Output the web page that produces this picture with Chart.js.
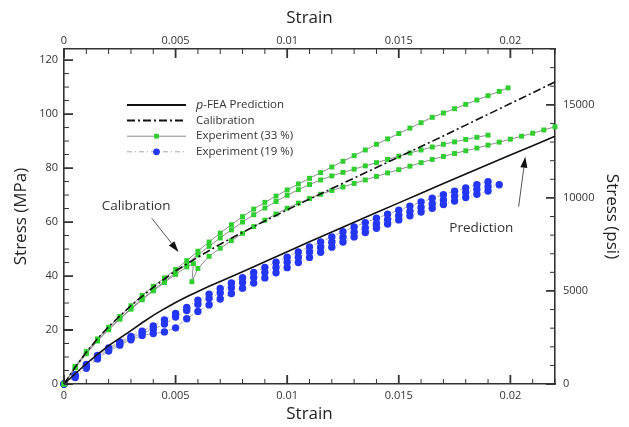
<!DOCTYPE html>
<html>
<head>
<meta charset="utf-8">
<title>Stress - strain</title>
<script src="https://cdn.jsdelivr.net/npm/chart.js@4.4.1/dist/chart.umd.min.js"></script>
<style>
  html, body { margin: 0; padding: 0; background: #fff; }
  #wrap { width: 629px; height: 427px; }
</style>
</head>
<body>
<div id="wrap"><canvas id="stressChart"></canvas></div>
<script>
// strain sampling used by the test records (every 0.0005)
const strainGrid = [0, 0.0005, 0.001, 0.0015, 0.002, 0.0025, 0.003, 0.0035, 0.004, 0.0045,
  0.005, 0.0055, 0.006, 0.0065, 0.007, 0.0075, 0.008, 0.0085, 0.009, 0.0095,
  0.01, 0.0105, 0.011, 0.0115, 0.012, 0.0125, 0.013, 0.0135, 0.014, 0.0145,
  0.015, 0.0155, 0.016, 0.0165, 0.017, 0.0175, 0.018, 0.0185, 0.019, 0.0195,
  0.02, 0.0205, 0.021, 0.0215, 0.022];

// p-FEA prediction (MPa)
const predStrain = [0, 0.0005, 0.001, 0.0015, 0.002, 0.0025, 0.003, 0.0035, 0.004, 0.0045,
  0.005, 0.0055, 0.006, 0.0065, 0.007, 0.008, 0.009, 0.01, 0.011, 0.012,
  0.013, 0.014, 0.015, 0.016, 0.017, 0.018, 0.019, 0.02, 0.021, 0.022];
const predStress = [0, 3.8, 7.5, 11, 14.2, 17, 19.8, 22.7, 25.4, 27.9,
  30.2, 32.3, 34.3, 36.2, 38.0, 41.6, 45.3, 49.0, 52.7, 56.3,
  59.9, 63.5, 67.1, 70.7, 74.3, 77.8, 81.3, 84.8, 88.3, 91.8];

// calibration curve (MPa)
const calibStrain = [0, 0.0005, 0.001, 0.0015, 0.002, 0.0025, 0.003, 0.0035, 0.004, 0.0045,
  0.005, 0.006, 0.007, 0.008, 0.009, 0.01, 0.011, 0.012, 0.013, 0.014,
  0.015, 0.016, 0.017, 0.018, 0.019, 0.02, 0.021, 0.022];
const calibStress = [0, 6.2, 11.8, 16.8, 21.2, 25.2, 29.0, 32.5, 35.8, 38.9,
  41.9, 47.0, 51.8, 56.2, 60.4, 64.5, 68.5, 72.4, 76.3, 80.2,
  84.1, 88.0, 91.9, 95.9, 99.9, 103.9, 107.9, 111.9];

// experiment, 33 % (three runs)
const exp33aStrain = strainGrid.slice(0, 40).concat([0.0199]);
const exp33aStress = [0, 6.5, 12, 16.7, 21, 25, 29, 32.8, 36.2, 39.3,
  42.4, 45.7, 49.2, 52.6, 55.9, 59.0, 62.0, 64.8, 67.3, 69.6,
  71.9, 74.1, 76.2, 78.3, 80.4, 82.5, 84.6, 86.7, 88.8, 90.8,
  92.8, 94.8, 96.8, 98.8, 100.4, 102.0, 103.6, 105.2, 106.8, 108.4, 109.7];

const exp33bStrain = [0, 0.0005, 0.001, 0.0015, 0.002, 0.0025, 0.003, 0.0035, 0.004, 0.0045,
  0.005, 0.0055, 0.0058, 0.00573, 0.006].concat(strainGrid.slice(13));
const exp33bStress = [0, 6.0, 11.2, 15.9, 20.1, 24.0, 27.7, 31.2, 34.5, 37.6,
  40.6, 43.4, 44.6, 37.9, 42.8,
  47.3, 50.3, 53.1, 55.8, 58.3, 60.7, 63.0, 65.1, 67.0, 68.7,
  70.3, 71.7, 73.0, 74.3, 75.6, 76.9, 78.2, 79.4, 80.7, 82.0,
  83.2, 84.3, 85.4, 86.4, 87.4, 88.5, 89.6, 90.7, 91.8, 92.9, 94.1, 95.3];

const exp33cStrain = strainGrid.slice(0, 39);
const exp33cStress = [0, 6.2, 11.5, 16.2, 20.4, 24.3, 28, 31.5, 34.8, 38,
  41.2, 44.5, 47.8, 51.0, 54.1, 57.1, 60.0, 62.7, 65.2, 67.6,
  69.9, 72.0, 73.9, 75.6, 77.1, 78.4, 79.6, 80.8, 82.0, 83.2,
  84.4, 85.6, 86.7, 87.8, 88.8, 89.7, 90.6, 91.4, 92.2];

// experiment, 19 % (three runs)
const exp19aStrain = strainGrid.slice(0, 39);
const exp19aStress = [0, 3.4, 7.2, 10.6, 13.4, 15.6, 17.6, 19.6, 21.5, 23.7,
  26.1, 28.4, 31.0, 33.3, 35.4, 37.4, 39.4, 41.3, 43.2, 45.1,
  47.0, 48.9, 50.8, 52.6, 54.5, 56.4, 58.2, 59.8, 61.4, 62.9,
  64.4, 65.9, 67.4, 68.8, 70.1, 71.4, 72.6, 73.8, 74.9];

const exp19bStrain = strainGrid.slice(0, 40);
const exp19bStress = [0, 2.8, 6.4, 9.9, 12.8, 15.0, 17.0, 18.9, 20.3, 22.2,
  24.8, 27.2, 29.5, 31.7, 33.7, 35.7, 37.6, 39.5, 41.3, 43.2,
  45.1, 47.0, 48.9, 50.7, 52.5, 54.4, 56.2, 57.8, 59.4, 60.9,
  62.4, 63.9, 65.4, 66.8, 68.2, 69.6, 70.9, 72.1, 73.2, 73.8];

const exp19cStrain = strainGrid.slice(0, 39);
const exp19cStress = [0, 2.4, 5.8, 9.3, 12.2, 14.4, 16.4, 18.0, 18.7, 19.3,
  20.8, 24.2, 26.9, 29.3, 31.5, 33.5, 35.5, 37.4, 39.3, 41.2,
  43.1, 45.0, 46.9, 48.8, 50.7, 52.6, 54.5, 56.1, 57.7, 59.3,
  60.8, 62.3, 63.7, 65.1, 66.5, 67.8, 69.1, 70.3, 71.5];

// axis ticks
const strainTicks = [0, 0.005, 0.01, 0.015, 0.02];
const stressTicks = [0, 20, 40, 60, 80, 100, 120];
const psiTicks = [0, 5000, 10000, 15000];

const PSI_PER_MPA = 145.038;
const PSI_MAX = 18000;

// callouts: text, text position, arrow tail and tip (strain, MPa)
const calloutText = ['Calibration', 'Prediction'];
const calloutTextAt = [[0.00323, 65.9], [0.0187, 57.8]];
const calloutTail = [[0.00393, 61.4], [0.02037, 65.7]];
const calloutTip = [[0.00513, 48.9], [0.02067, 84.2]];

const GREEN = '#2fcf2f';
const BLUE = '#2436f5';

function pts(xs, ys) {
    return xs.map((x, i) => ({ x: x, y: ys[i] }));
}

function expSet(label, xs, ys, kind) {
    const green = kind === 33;
    return {
        label: label,
        data: pts(xs, ys),
        showLine: true,
        borderColor: green ? '#8c8c8c' : '#a6a6a6',
        borderWidth: 1,
        borderDash: green ? [] : [5, 3, 1, 3],
        pointStyle: green ? 'rect' : 'circle',
        pointRadius: green ? 3.5 : 3.7,
        pointBackgroundColor: green ? GREEN : BLUE,
        pointBorderColor: green ? GREEN : BLUE,
        pointBorderWidth: 0,
        clip: false
    };
}

Chart.defaults.font.family = '"Open Sans", "Noto Sans", sans-serif';
Chart.defaults.color = '#333';

// tick marks pointing into the plot, major and minor, on all four sides
const innerTicks = {
    id: 'innerTicks',
    afterDatasetsDraw(chart) {
        const { ctx, chartArea: a, scales } = chart;
        ctx.save();
        ctx.strokeStyle = '#333';
        [true, false].forEach(function (major) {
            ctx.lineWidth = major ? 1.8 : 1;
            ctx.beginPath();
            for (let i = 0; i <= 22; i++) {
                if ((i % 5 === 0) !== major) continue;
                const len = major ? 9 : 5;
                const px = scales.x.getPixelForValue(i * 0.001);
                ctx.moveTo(px, a.bottom); ctx.lineTo(px, a.bottom - len);
                ctx.moveTo(px, a.top); ctx.lineTo(px, a.top + len);
            }
            for (let i = 0; i <= 24; i++) {
                if ((i % 4 === 0) !== major) continue;
                const len = major ? 9 : 5;
                const py = scales.y.getPixelForValue(i * 5);
                ctx.moveTo(a.left, py); ctx.lineTo(a.left + len, py);
            }
            for (let i = 0; i <= 18; i++) {
                if ((i % 5 === 0) !== major) continue;
                const len = major ? 9 : 5;
                const py = scales.y2.getPixelForValue(i * 1000);
                ctx.moveTo(a.right, py); ctx.lineTo(a.right - len, py);
            }
            ctx.stroke();
        });
        ctx.restore();
    }
};

// legend drawn inside the plot, upper left
const insideLegend = {
    id: 'insideLegend',
    afterDraw(chart) {
        const { ctx } = chart;
        const sets = chart.data.datasets;
        const rows = [0, 1, 2, 5];
        ctx.save();
        ctx.font = '11.5px "Open Sans", sans-serif';
        ctx.textBaseline = 'middle';
        rows.forEach(function (di, r) {
            const ds = sets[di];
            const y = 105 + r * 15.6;
            ctx.beginPath();
            ctx.setLineDash(ds.borderDash || []);
            ctx.strokeStyle = ds.borderColor;
            ctx.lineWidth = r < 2 ? 2 : 1;
            ctx.moveTo(127, y);
            ctx.lineTo(186, y);
            ctx.stroke();
            ctx.setLineDash([]);
            if (ds.pointRadius) {
                ctx.fillStyle = ds.pointBackgroundColor;
                Chart.helpers.drawPoint(ctx, { pointStyle: ds.pointStyle, radius: 3.4, rotation: 0, borderWidth: 0 }, 156.5, y);
            }
            ctx.fillStyle = '#333';
            let tx = 196;
            let text = ds.label;
            if (text.indexOf('p-') === 0) {
                ctx.font = 'italic 12.5px "Open Sans", sans-serif';
                ctx.fillText('p', tx, y);
                tx += ctx.measureText('p').width;
                ctx.font = '11.5px "Open Sans", sans-serif';
                text = text.slice(1);
            }
            ctx.fillText(text, tx, y);
        });
        ctx.restore();
    }
};

// "Calibration" and "Prediction" notes with arrows
const callouts = {
    id: 'callouts',
    afterDatasetsDraw(chart) {
        const { ctx, scales: { x, y } } = chart;
        ctx.save();
        calloutText.forEach(function (text, i) {
            ctx.font = '13.5px "Open Sans", sans-serif';
            ctx.fillStyle = '#333';
            ctx.textAlign = 'center';
            ctx.textBaseline = 'middle';
            ctx.fillText(text, x.getPixelForValue(calloutTextAt[i][0]), y.getPixelForValue(calloutTextAt[i][1]));

            const x0 = x.getPixelForValue(calloutTail[i][0]);
            const y0 = y.getPixelForValue(calloutTail[i][1]);
            const x1 = x.getPixelForValue(calloutTip[i][0]);
            const y1 = y.getPixelForValue(calloutTip[i][1]);
            const ang = Math.atan2(y1 - y0, x1 - x0);
            const head = 11, half = 3.5;
            const bx = x1 - head * Math.cos(ang);
            const by = y1 - head * Math.sin(ang);
            ctx.strokeStyle = '#555';
            ctx.lineWidth = 1;
            ctx.beginPath();
            ctx.moveTo(x0, y0);
            ctx.lineTo(bx, by);
            ctx.stroke();
            ctx.fillStyle = '#111';
            ctx.beginPath();
            ctx.moveTo(x1, y1);
            ctx.lineTo(bx + half * Math.sin(ang), by - half * Math.cos(ang));
            ctx.lineTo(bx - half * Math.sin(ang), by + half * Math.cos(ang));
            ctx.closePath();
            ctx.fill();
        });
        ctx.restore();
    }
};

const tickFont = { size: 11 };
const titleFont = { size: 17 };
const frame = { display: true, color: '#333', width: 1.6 };

const ctx = document.getElementById('stressChart').getContext('2d');
const stressChart = new Chart(ctx, {
    type: 'scatter',
    data: {
        datasets: [
            {
                label: 'p-FEA Prediction',
                data: pts(predStrain, predStress),
                showLine: true,
                borderColor: '#111',
                borderWidth: 1.6,
                pointRadius: 0,
                clip: false
            },
            {
                label: 'Calibration',
                data: pts(calibStrain, calibStress),
                showLine: true,
                borderColor: '#111',
                borderWidth: 1.6,
                borderDash: [8, 3, 2, 3],
                pointRadius: 0,
                clip: false
            },
            expSet('Experiment (33 %)', exp33aStrain, exp33aStress, 33),
            expSet('Experiment (33 %)', exp33bStrain, exp33bStress, 33),
            expSet('Experiment (33 %)', exp33cStrain, exp33cStress, 33),
            expSet('Experiment (19 %)', exp19aStrain, exp19aStress, 19),
            expSet('Experiment (19 %)', exp19bStrain, exp19bStress, 19),
            expSet('Experiment (19 %)', exp19cStrain, exp19cStress, 19)
        ]
    },
    options: {
        responsive: true,
        maintainAspectRatio: false,
        animation: false,
        events: [],
        layout: { padding: 0 },
        plugins: {
            legend: { display: false },
            tooltip: { enabled: false }
        },
        scales: {
            x: {
                type: 'linear',
                position: 'bottom',
                min: 0,
                max: 0.022,
                grid: { display: false, drawTicks: false },
                border: frame,
                afterBuildTicks: (s) => { s.ticks = strainTicks.map(v => ({ value: v })); },
                afterFit: (s) => { s.height = 43; },
                ticks: {
                    font: tickFont,
                    padding: 5,
                    maxRotation: 0,
                    callback: (v) => String(+v.toFixed(3))
                },
                title: { display: true, text: 'Strain', font: titleFont, color: '#222', padding: { bottom: 3 } }
            },
            x2: {
                type: 'linear',
                position: 'top',
                min: 0,
                max: 0.022,
                grid: { display: false, drawTicks: false },
                border: frame,
                afterBuildTicks: (s) => { s.ticks = strainTicks.map(v => ({ value: v })); },
                afterFit: (s) => { s.height = 49; },
                ticks: {
                    font: tickFont,
                    padding: 2,
                    maxRotation: 0,
                    callback: (v) => String(+v.toFixed(3))
                },
                title: { display: true, text: 'Strain', font: titleFont, color: '#222', padding: { top: 8 } }
            },
            y: {
                type: 'linear',
                position: 'left',
                min: 0,
                max: PSI_MAX / PSI_PER_MPA,
                grid: { display: false, drawTicks: false },
                border: frame,
                afterBuildTicks: (s) => { s.ticks = stressTicks.map(v => ({ value: v })); },
                afterFit: (s) => { s.width = 64; },
                ticks: { font: tickFont, padding: 6, callback: (v) => String(v) },
                title: { display: true, text: 'Stress (MPa)', font: titleFont, color: '#222', padding: { top: 11 } }
            },
            y2: {
                type: 'linear',
                position: 'right',
                min: 0,
                max: PSI_MAX,
                grid: { display: false, drawTicks: false },
                border: frame,
                afterBuildTicks: (s) => { s.ticks = psiTicks.map(v => ({ value: v })); },
                afterFit: (s) => { s.width = 74; },
                ticks: { font: tickFont, padding: 8, callback: (v) => String(v) },
                title: { display: true, text: 'Stress (psi)', font: titleFont, color: '#222', padding: { top: 7 } }
            }
        }
    },
    plugins: [innerTicks, callouts, insideLegend]
});
</script>
</body>
</html>
